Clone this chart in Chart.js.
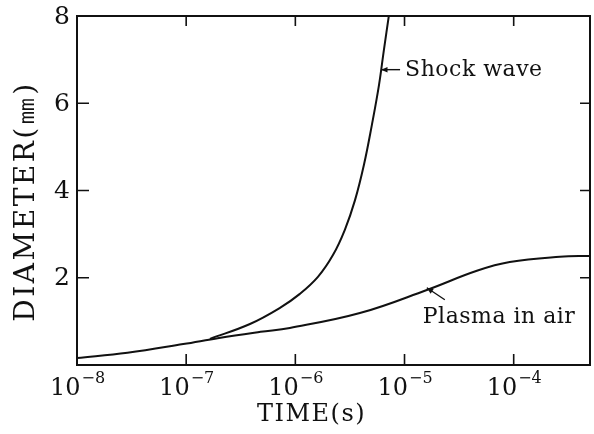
<!DOCTYPE html>
<html>
<head>
<meta charset="utf-8">
<script src="https://cdn.jsdelivr.net/npm/chart.js@4.4.1/dist/chart.umd.min.js"></script>
<style>
    html, body { margin: 0; padding: 0; background: #fff; }
    #wrap { width: 594px; height: 434px; }
</style>
</head>
<body>
<div id="wrap"><canvas id="graph"></canvas></div>
<script>
// Plasma in air
const plasmaTime = [1e-8, 2.9e-8, 9.4e-8, 2.0e-7, 4.8e-7, 8.9e-7, 3.9e-6, 1.6e-5, 4.6e-5, 9.2e-5, 2.65e-4, 5e-4];
const plasmaDiameter = [0.16, 0.28, 0.48, 0.62, 0.76, 0.85, 1.19, 1.72, 2.16, 2.36, 2.48, 2.50];

// Shock wave
const shockTime = [1.65e-7, 3.84e-7, 7.23e-7, 1.10e-6, 1.61e-6, 2.21e-6, 2.84e-6, 3.52e-6, 4.25e-6, 5.02e-6, 5.84e-6, 6.47e-6, 7.19e-6];
const shockDiameter = [0.60, 0.94, 1.31, 1.63, 2.02, 2.52, 3.10, 3.78, 4.59, 5.50, 6.42, 7.22, 8.01];

// Axis ticks
const xTicks = [1e-8, 1e-7, 1e-6, 1e-5, 1e-4];
const xTickExps = ['\u22128', '\u22127', '\u22126', '\u22125', '\u22124'];
const yTicks = [2, 4, 6, 8];

// Curve labels (arrow tip sits on the curve)
const noteText = ['Shock wave', 'Plasma in air'];
const noteTime = [6.1e-6, 1.6e-5];
const noteDiameter = [6.77, 1.77];

const ink = '#111';
const serif = '"DejaVu Serif", "Liberation Serif", serif';

const toPoints = (xs, ys) => xs.map((t, i) => ({ x: t, y: ys[i] }));

const drawArrow = (ctx, x1, y1, x2, y2) => {
    // line from (x1,y1) to tip (x2,y2)
    const ang = Math.atan2(y2 - y1, x2 - x1);
    ctx.beginPath();
    ctx.moveTo(x1, y1);
    ctx.lineTo(x2, y2);
    ctx.stroke();
    ctx.beginPath();
    ctx.moveTo(x2, y2);
    ctx.lineTo(x2 - 7 * Math.cos(ang - 0.4), y2 - 7 * Math.sin(ang - 0.4));
    ctx.lineTo(x2 - 7 * Math.cos(ang + 0.4), y2 - 7 * Math.sin(ang + 0.4));
    ctx.closePath();
    ctx.fill();
};

const frame = {
    id: 'frame',
    afterDraw (chart) {
        const { ctx, chartArea: a, scales: { x, y } } = chart;
        ctx.save();
        ctx.strokeStyle = ink;
        ctx.fillStyle = ink;
        ctx.lineWidth = 2;
        ctx.strokeRect(a.left, a.top, a.right - a.left, a.bottom - a.top);

        // x ticks (inward, bottom and top) and labels 10^n
        ctx.lineWidth = 1.6;
        xTicks.forEach((v, i) => {
            const px = x.getPixelForValue(v);
            if (px > a.left + 2) {
                ctx.beginPath();
                ctx.moveTo(px, a.bottom); ctx.lineTo(px, a.bottom - 11);
                ctx.moveTo(px, a.top); ctx.lineTo(px, a.top + 10);
                ctx.stroke();
            }
            ctx.font = `24px ${serif}`;
            const w1 = ctx.measureText('10').width;
            ctx.font = `16px ${serif}`;
            const w2 = ctx.measureText(xTickExps[i]).width;
            const start = px - (w1 + w2) / 2;
            ctx.textAlign = 'left';
            ctx.textBaseline = 'alphabetic';
            ctx.font = `24px ${serif}`;
            ctx.fillText('10', start, a.bottom + 30);
            ctx.font = `16px ${serif}`;
            ctx.fillText(xTickExps[i], start + w1 + 1, a.bottom + 18);
        });

        // y ticks (inward, left and right) and labels
        yTicks.forEach((v) => {
            const py = y.getPixelForValue(v);
            if (py > a.top + 2) {
                ctx.beginPath();
                ctx.moveTo(a.left, py); ctx.lineTo(a.left + 12, py);
                ctx.moveTo(a.right, py); ctx.lineTo(a.right - 10, py);
                ctx.stroke();
            }
            ctx.font = `25px ${serif}`;
            ctx.textAlign = 'right';
            ctx.textBaseline = 'middle';
            ctx.fillText(String(v), a.left - 7, py + 1);
        });

        // axis titles
        ctx.textAlign = 'center';
        ctx.textBaseline = 'middle';
        ctx.font = `24px ${serif}`;
        ctx.letterSpacing = '1.5px';
        ctx.fillText('TIME(s)', (a.left + a.right) / 2 - 22, a.bottom + 50);
        ctx.save();
        ctx.translate(27, (a.top + a.bottom) / 2 + 11);
        ctx.rotate(-Math.PI / 2);
        ctx.font = `28px ${serif}`;
        ctx.letterSpacing = '2.5px';
        ctx.fillText('DIAMETER(\u339C)', 0, 0);
        ctx.restore();

        // curve labels with arrows
        ctx.font = `22px ${serif}`;
        ctx.letterSpacing = '0.5px';
        ctx.textAlign = 'left';
        ctx.textBaseline = 'middle';
        ctx.lineWidth = 1.4;
        // Shock wave: arrow pointing left onto the curve
        let tx = x.getPixelForValue(noteTime[0]);
        let ty = y.getPixelForValue(noteDiameter[0]);
        drawArrow(ctx, tx + 19, ty, tx, ty);
        ctx.fillText(noteText[0], tx + 24, ty + 1);
        // Plasma in air: arrow pointing up-left onto the curve
        tx = x.getPixelForValue(noteTime[1]);
        ty = y.getPixelForValue(noteDiameter[1]);
        drawArrow(ctx, tx + 18, ty + 12, tx, ty);
        ctx.fillText(noteText[1], tx - 4, ty + 29);
        ctx.letterSpacing = '0px';
        ctx.restore();
    }
};

const lineStyle = {
    borderColor: ink,
    borderWidth: 2,
    pointRadius: 0,
    fill: false,
    tension: 0.4
};

new Chart(document.getElementById('graph'), {
    type: 'line',
    data: {
        datasets: [
            { label: 'Plasma in air', data: toPoints(plasmaTime, plasmaDiameter), ...lineStyle },
            { label: 'Shock wave', data: toPoints(shockTime, shockDiameter), ...lineStyle }
        ]
    },
    options: {
        responsive: true,
        maintainAspectRatio: false,
        animation: false,
        layout: { padding: { left: 77, top: 16, right: 4, bottom: 69 } },
        plugins: { legend: { display: false }, tooltip: { enabled: false } },
        scales: {
            x: { type: 'logarithmic', min: 1e-8, max: 5e-4, display: false },
            y: { type: 'linear', min: 0, max: 8, display: false }
        }
    },
    plugins: [frame]
});
</script>
</body>
</html>
